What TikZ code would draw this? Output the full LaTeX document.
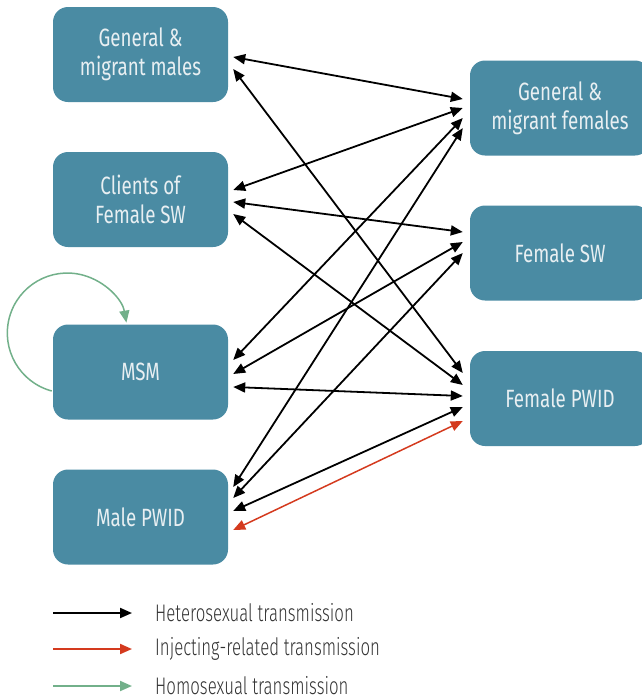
\documentclass[tikz,border=0pt]{standalone}
\usepackage{fontspec}
\setmainfont[FakeStretch=0.75]{Fira Sans}
\newfontfamily\legfont[FakeStretch=0.7]{Fira Sans Light}
\usetikzlibrary{arrows.meta,calc}
\definecolor{boxblue}{HTML}{4A8BA3}
\definecolor{boxtext}{HTML}{E8EFF2}
\definecolor{injred}{HTML}{D43A1E}
\definecolor{homogreen}{HTML}{72B08A}
\definecolor{legtext}{HTML}{333333}
\begin{document}
\begin{tikzpicture}[x=1pt,y=-1pt,
  >={Triangle[length=12pt,width=10pt]},
  grp/.style={fill=boxblue, rounded corners=15pt, minimum height=95pt, text=boxtext,
    align=center, inner sep=0pt, font=\fontsize{25}{29}\selectfont},
  lbox/.style={grp, minimum width=175pt},
  rbox/.style={grp, minimum width=180pt},
  het/.style={draw=black, line width=1.8pt, <->},
  inj/.style={draw=injred, line width=1.5pt, <->},
  homo/.style={draw=homogreen, line width=1.5pt, ->},
  legline/.style={line width=2pt, ->},
  legtxt/.style={anchor=west, text=legtext, inner sep=0pt, font=\legfont\fontsize{24}{26}\selectfont}
]
\useasboundingbox (0,0) rectangle (642,699);
% left boxes
\node[lbox] (gmm) at (140.5,54.5) {General \&\\migrant males};
\node[lbox] (cli) at (140.5,199.5) {Clients of\\Female SW};
\node[lbox] (msm) at (140.5,372) {MSM};
\node[lbox] (mpw) at (140.5,517) {Male PWID};
% right boxes
\node[rbox] (gmf) at (560,108) {General \&\\migrant females};
\node[rbox] (fsw) at (560,253) {Female SW};
\node[rbox] (fpw) at (560,398.5) {Female PWID};
% heterosexual links
\draw[het] ([shift={(5,2.5)}]gmm.east) -- ([shift={(-7,-9)}]gmf.west);
\draw[het] ([shift={(5,14.5)}]gmm.east) -- ([shift={(-7,-25.5)}]fpw.west);
\draw[het] ([shift={(5,-9.5)}]cli.east) -- ([shift={(-7,0)}]gmf.west);
\draw[het] ([shift={(5,2.5)}]cli.east) -- ([shift={(-7,-21)}]fsw.west);
\draw[het] ([shift={(5,14.5)}]cli.east) -- ([shift={(-7,-13.5)}]fpw.west);
\draw[het] ([shift={(5,-12)}]msm.east) -- ([shift={(-7,10)}]gmf.west);
\draw[het] ([shift={(5,2)}]msm.east) -- ([shift={(-7,-11)}]fsw.west);
\draw[het] ([shift={(5,15)}]msm.east) -- ([shift={(-7,-2.5)}]fpw.west);
\draw[het] ([shift={(5,-30)}]mpw.east) -- ([shift={(-7,20)}]gmf.west);
\draw[het] ([shift={(5,-19)}]mpw.east) -- ([shift={(-7,0)}]fsw.west);
\draw[het] ([shift={(5,-6)}]mpw.east) -- ([shift={(-7,8.5)}]fpw.west);
% injecting link
\draw[inj] ([shift={(5,13)}]mpw.east) -- ([shift={(-7,22.5)}]fpw.west);
% homosexual loop
\draw[homo] ([shift={(-1,19)}]msm.west) arc[start angle=105, end angle=350, radius=60];
% legend
\coordinate (l1a) at (53,613); \coordinate (l1b) at (132,613);
\coordinate (l2a) at (53,649); \coordinate (l2b) at (132,649);
\coordinate (l3a) at (53,686); \coordinate (l3b) at (132,686);
\draw[legline, black] (l1a) -- (l1b);
\draw[legline, injred] (l2a) -- (l2b);
\draw[legline, homogreen] (l3a) -- (l3b);
\node[legtxt] (t1) at (155,613) {Heterosexual transmission};
\node[legtxt] (t2) at (155,649) {Injecting-related transmission};
\node[legtxt] (t3) at (155,686) {Homosexual transmission};
\end{tikzpicture}
\end{document}
